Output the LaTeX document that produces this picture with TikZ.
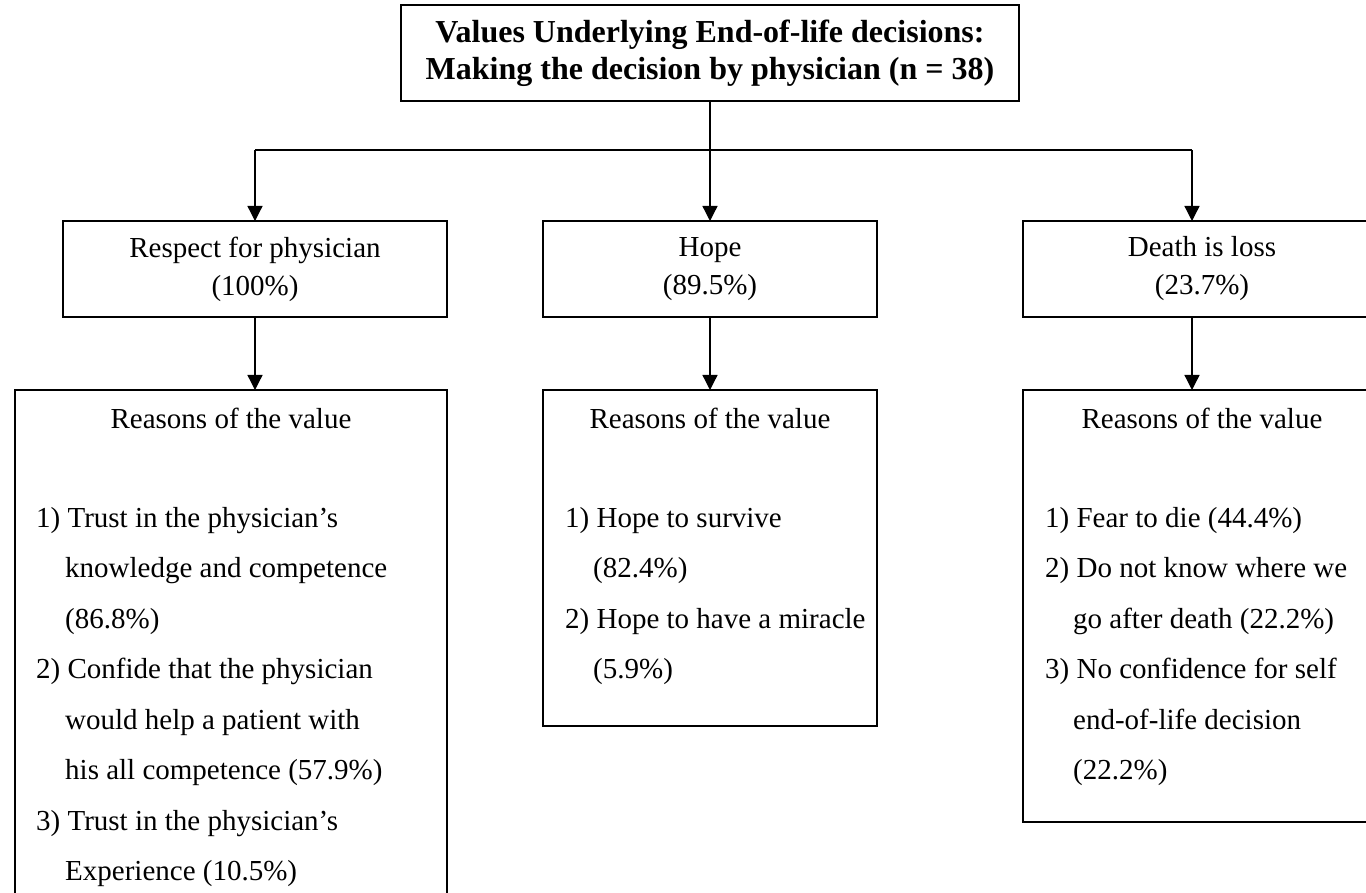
\documentclass[tikz,border=0pt]{standalone}
\usepackage{fontspec}
\setmainfont{Liberation Serif}
\usetikzlibrary{arrows.meta}
\begin{document}
\begin{tikzpicture}[x=1pt,y=-1pt,
  box/.style={draw, line width=1.5pt, inner sep=0pt, outer sep=0pt, align=center,
    font=\fontsize{29}{38}\selectfont},
  link/.style={line width=1.3pt, -{Triangle[length=15pt,width=15pt]}},
  plain/.style={line width=1.3pt},
  head/.style={inner sep=0pt, font=\fontsize{29}{38}\selectfont},
  items/.style={inner sep=0pt, anchor=north west, align=left,
    font=\fontsize{29}{50.5}\selectfont},
]
\useasboundingbox (0,0) rectangle (1366,893);
\clip (0,0) rectangle (1366,893);

% title box
\node[box, minimum width=618pt, minimum height=96pt,
  font=\bfseries\fontsize{32}{37}\selectfont] (title) at (710,53)
  {Values Underlying End-of-life decisions:\\Making the decision by physician (n = 38)};

% value boxes
\node[box, minimum width=384pt, minimum height=96pt] (resp) at (255,269)
  {Respect for physician\\(100\%)};
\node[box, minimum width=334pt, minimum height=96pt] (hope) at (710,269)
  {Hope\\(89.5\%)};
\node[box, minimum width=358pt, minimum height=96pt] (death) at (1202,269)
  {Death is loss\\(23.7\%)};

% reason boxes
\node[box, minimum width=432pt, minimum height=520pt] (rresp) at (231,650) {};
\node[box, minimum width=334pt, minimum height=336pt] (rhope) at (710,558) {};
\node[box, minimum width=358pt, minimum height=432pt] (rdeath) at (1202,606) {};

% reason headings
\node[head] (hresp) at (231,418) {Reasons of the value};
\node[head] (hhope) at (710,418) {Reasons of the value};
\node[head] (hdeath) at (1202,418) {Reasons of the value};

% reason lists
\node[items] (lresp) at (36,505)
  {\rule{0pt}{22pt}1) Trust in the physician’s\\
   \hspace*{29pt}knowledge and competence\\
   \hspace*{29pt}(86.8\%)\\
   2) Confide that the physician\\
   \hspace*{29pt}would help a patient with\\
   \hspace*{29pt}his all competence (57.9\%)\\
   3) Trust in the physician’s\\
   \hspace*{29pt}Experience (10.5\%)};
\node[items] (lhope) at (565,505)
  {\rule{0pt}{22pt}1) Hope to survive\\
   \hspace*{28pt}(82.4\%)\\
   2) Hope to have a miracle\\
   \hspace*{28pt}(5.9\%)};
\node[items] (ldeath) at (1045,505)
  {\rule{0pt}{22pt}1) Fear to die (44.4\%)\\
   2) Do not know where we\\
   \hspace*{28pt}go after death (22.2\%)\\
   3) No confidence for self\\
   \hspace*{28pt}end-of-life decision\\
   \hspace*{28pt}(22.2\%)};

% connectors
\coordinate (split) at (710,150);
\coordinate (bl) at (255,150);
\coordinate (br) at (1192,150);
\draw[plain] (title.south) -- (split);
\draw[plain] (bl) -- (br);
\draw[link] (bl) -- (bl |- resp.north);
\draw[link] (split) -- (hope.north);
\draw[link] (br) -- (br |- death.north);
\draw[link] (resp.south) -- (resp.south |- rresp.north);
\draw[link] (hope.south) -- (rhope.north);
\draw[link] (death.south -| br) -- (br |- rdeath.north);
\end{tikzpicture}
\end{document}
